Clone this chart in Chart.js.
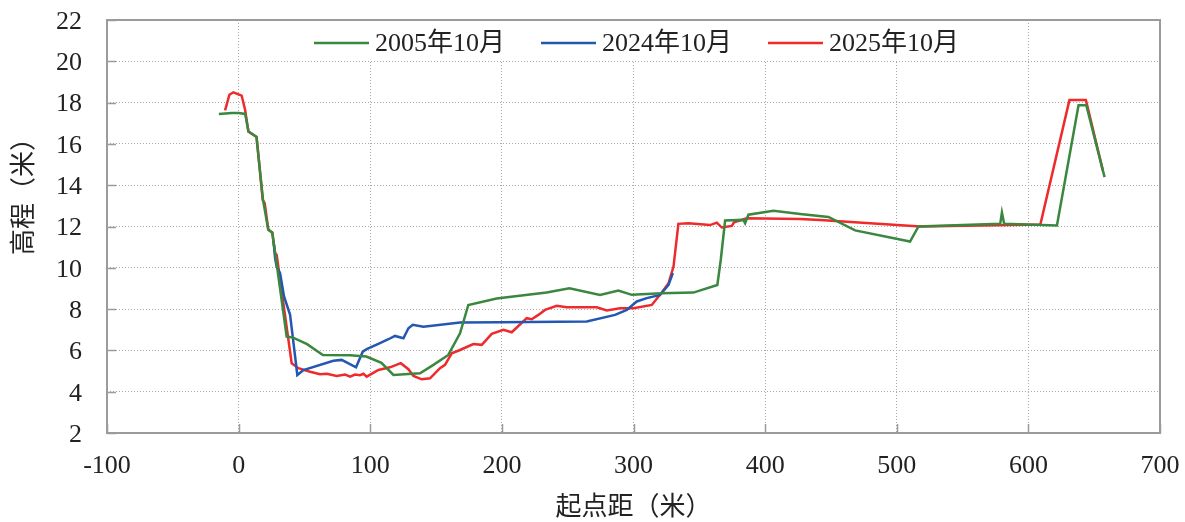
<!DOCTYPE html>
<html>
<head>
<meta charset="utf-8">
<script src="https://cdn.jsdelivr.net/npm/chart.js@4/dist/chart.umd.min.js"></script>
<style>
  html, body { margin: 0; padding: 0; background: #ffffff; }
  #wrap { width: 1185px; height: 522px; }
</style>
</head>
<body>
<div id="wrap"><canvas id="profile" width="1185" height="522"></canvas></div>
<script>
// Cross-section survey: distance from start point (m) vs. elevation (m)
const seriesNames = ['2005年10月', '2024年10月', '2025年10月'];
const seriesColors = ['#3a873f', '#2357b2', '#ee2a2a'];

const xTickValues = [-100, 0, 100, 200, 300, 400, 500, 600, 700];
const yTickValues = [2, 4, 6, 8, 10, 12, 14, 16, 18, 20, 22];

const xTitle = '起点距（米）';
const yTitle = '高程（米）';

// 2005年10月
const dist2005 = [-15, -5, 0, 5, 7.5, 13.5, 18.5, 22.5, 25.5, 28, 36.5, 41.4, 52, 64, 84.6, 97, 108.5, 117.6,
  137.8, 148, 159.3, 168.2, 174.5, 196, 234, 251.3, 274.6, 288.5, 298.7, 321.5, 345.5, 363.7, 366.3, 369.6,
  383.5, 384.8, 387.3, 406.3, 426.6, 448.1, 468.4, 510.1, 516.5, 578.6, 579.9, 581.6, 621.7, 638.1, 644, 657.9];
const elev2005 = [17.45, 17.5, 17.5, 17.45, 16.6, 16.35, 13.3, 11.85, 11.7, 10.6, 6.67, 6.62, 6.3, 5.78, 5.77, 5.70, 5.4, 4.81,
  4.89, 5.30, 5.78, 6.83, 8.20, 8.51, 8.80, 9.01, 8.69, 8.90, 8.69, 8.77, 8.80, 9.17, 10.39, 12.29,
  12.32, 12.16, 12.57, 12.76, 12.60, 12.46, 11.81, 11.27, 12.0, 12.13, 12.68, 12.13, 12.05, 17.87, 17.87, 14.39];

// 2024年10月
const dist2024 = [26.5, 27.7, 28.9, 31.5, 34.5, 39.1, 44.6, 49.2, 72, 78.3, 89.2, 94.3, 97.3, 107.4, 113.8, 118.8,
  125.2, 129, 132.3, 140.4, 168.2, 198.6, 264.5, 286, 294.9, 302.5, 310.1, 320.2, 326.6, 329.9];
const elev2024 = [11.3, 10.47, 10.06, 9.74, 8.61, 7.72, 4.81, 5.05, 5.50, 5.54, 5.18, 5.94, 6.06, 6.35, 6.54, 6.70,
  6.59, 7.07, 7.24, 7.15, 7.35, 7.36, 7.40, 7.72, 7.96, 8.37, 8.53, 8.69, 9.17, 9.74];

// 2025年10月
const dist2025 = [-10.3, -7, -4, 2.3, 4.9, 7.4, 13.7, 18.3, 19.8, 22.6, 25.6, 27.7, 28.9, 31.5, 40.3, 45.4, 54.3,
  61.9, 67, 74.5, 80.9, 84.7, 88.4, 92.2, 94.8, 97.3, 106.2, 115, 123.2, 129, 132.8, 139.1, 145.4, 153, 156.8,
  161.9, 168.2, 178.3, 184.7, 192.3, 201.1, 207.5, 218.9, 222.7, 227.7, 232.8, 241.7, 249.3, 272.1, 279.7,
  289.8, 300, 313.9, 321.5, 326.6, 330.4, 334.1, 341.7, 358.2, 363.3, 367.1, 374.7, 376.4, 386, 426.6,
  441.8, 517.9, 609.1, 631.2, 643.7, 656.6];
const elev2025 = [17.62, 18.38, 18.5, 18.34, 17.66, 16.6, 16.33, 13.29, 13.13, 11.84, 11.71, 10.71, 10.63, 9.42, 5.38, 5.14, 4.97,
  4.85, 4.87, 4.76, 4.83, 4.73, 4.83, 4.80, 4.87, 4.73, 5.05, 5.18, 5.38, 5.09, 4.76, 4.60, 4.65, 5.14, 5.30,
  5.86, 6.02, 6.31, 6.27, 6.80, 7.0, 6.88, 7.56, 7.51, 7.72, 7.96, 8.16, 8.09, 8.09, 7.93,
  8.04, 8.04, 8.20, 8.80, 9.25, 10.06, 12.13, 12.16, 12.07, 12.19, 11.95, 12.03, 12.2, 12.40, 12.36,
  12.32, 12.0, 12.10, 18.12, 18.12, 14.71];

const distances = [dist2005, dist2024, dist2025];
const elevations = [elev2005, elev2024, elev2025];

const SERIF = "'Liberation Serif', 'Times New Roman', 'Noto Sans CJK SC', serif";
const TEXT_COLOR = '#222222';
const FRAME_COLOR = '#9b9b9b';
const GRID_COLOR = '#a8a8a8';

function pairs(xs, ys) {
  return xs.map((x, i) => ({ x: x, y: ys[i] }));
}

const datasets = seriesNames.map((name, i) => ({
  label: name,
  data: pairs(distances[i], elevations[i]),
  borderColor: seriesColors[i],
  backgroundColor: seriesColors[i],
  borderWidth: 2.5,
  pointRadius: 0,
  pointHoverRadius: 0,
  tension: 0,
  fill: false
}));

// Frame, inward tick marks, legend box and rotated y title
const decorations = {
  id: 'decorations',
  afterDraw(chart) {
    const ctx = chart.ctx;
    const area = chart.chartArea;
    const xs = chart.scales.x;
    const ys = chart.scales.y;
    ctx.save();

    // short solid tick marks pointing into the plot
    ctx.strokeStyle = FRAME_COLOR;
    ctx.lineWidth = 1.5;
    ctx.beginPath();
    xTickValues.forEach(v => {
      const px = Math.round(xs.getPixelForValue(v)) + 0.5;
      ctx.moveTo(px, area.bottom);
      ctx.lineTo(px, area.bottom - 9);
    });
    yTickValues.forEach(v => {
      const py = Math.round(ys.getPixelForValue(v)) + 0.5;
      ctx.moveTo(area.left, py);
      ctx.lineTo(area.left + 9, py);
    });
    ctx.stroke();

    // legend with white backing inside the plot
    ctx.font = '26px ' + SERIF;
    const lineLen = 55, gap = 6, spacing = 36;
    const widths = seriesNames.map(n => ctx.measureText(n).width);
    const total = widths.reduce((a, b) => a + b, 0) + seriesNames.length * (lineLen + gap) + (seriesNames.length - 1) * spacing;
    let lx = (area.left + area.right) / 2 + 3 - total / 2;
    const ly = area.top + 23;
    const y20 = ys.getPixelForValue(20);
    ctx.fillStyle = '#ffffff';
    ctx.fillRect(lx - 12, area.top + 1.5, total + 24, y20 - area.top - 3);
    seriesNames.forEach((name, i) => {
      ctx.strokeStyle = seriesColors[i];
      ctx.lineWidth = 2.5;
      ctx.beginPath();
      ctx.moveTo(lx, ly);
      ctx.lineTo(lx + lineLen, ly);
      ctx.stroke();
      ctx.fillStyle = TEXT_COLOR;
      ctx.textAlign = 'left';
      ctx.textBaseline = 'middle';
      ctx.fillText(name, lx + lineLen + gap, ly + 1);
      lx += lineLen + gap + widths[i] + spacing;
    });

    // plot frame
    ctx.strokeStyle = FRAME_COLOR;
    ctx.lineWidth = 2;
    ctx.strokeRect(area.left, area.top, area.right - area.left, area.bottom - area.top);

    // rotated y-axis title
    ctx.translate(25, 190);
    ctx.rotate(-Math.PI / 2);
    ctx.font = '26px ' + SERIF;
    ctx.fillStyle = TEXT_COLOR;
    ctx.textAlign = 'center';
    ctx.textBaseline = 'middle';
    ctx.fillText(yTitle, 0, 0);
    ctx.restore();
  }
};

new Chart(document.getElementById('profile'), {
  type: 'line',
  data: { datasets: datasets },
  options: {
    responsive: false,
    animation: false,
    devicePixelRatio: 1,
    layout: { padding: { top: 20, right: 25, left: 0, bottom: 0 } },
    plugins: {
      legend: { display: false },
      tooltip: { enabled: false }
    },
    scales: {
      x: {
        type: 'linear',
        min: -100,
        max: 700,
        afterBuildTicks(scale) { scale.ticks = xTickValues.map(v => ({ value: v })); },
        afterFit(scale) {
          scale.height = 89;
          scale.paddingLeft = 0;
          scale.paddingRight = 0;
        },
        ticks: {
          font: { family: SERIF, size: 26 },
          color: TEXT_COLOR,
          padding: 18,
          maxRotation: 0,
          autoSkip: false
        },
        grid: { color: GRID_COLOR, lineWidth: 1, drawTicks: false },
        border: { display: false, dash: [1, 2] },
        title: {
          display: true,
          text: xTitle,
          font: { family: SERIF, size: 26, lineHeight: 1 },
          color: TEXT_COLOR,
          padding: { top: 0, bottom: 1 }
        }
      },
      y: {
        type: 'linear',
        min: 2,
        max: 22,
        afterBuildTicks(scale) { scale.ticks = yTickValues.map(v => ({ value: v })); },
        afterFit(scale) {
          scale.width = 107;
          scale.paddingTop = 0;
          scale.paddingBottom = 0;
        },
        ticks: {
          font: { family: SERIF, size: 26 },
          color: TEXT_COLOR,
          padding: 25,
          labelOffset: 2,
          autoSkip: false
        },
        grid: { color: GRID_COLOR, lineWidth: 1, drawTicks: false },
        border: { display: false, dash: [1, 2] }
      }
    }
  },
  plugins: [decorations]
});
</script>
</body>
</html>
